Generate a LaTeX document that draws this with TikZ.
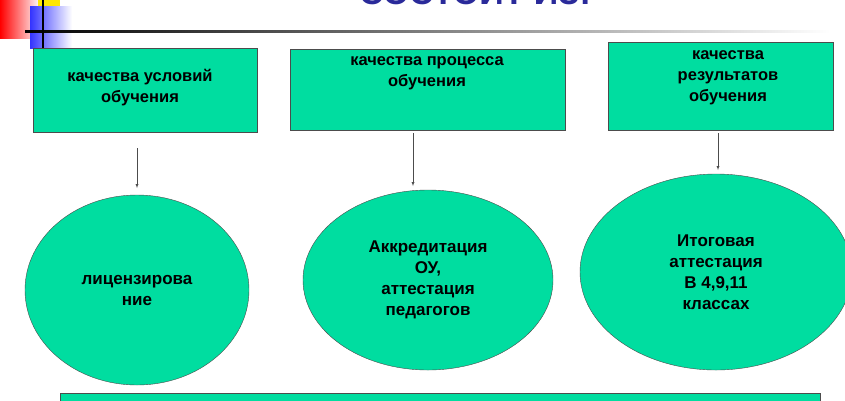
\documentclass[tikz,border=0pt]{standalone}
\usepackage{fontspec}
\setmainfont{Liberation Sans}
\usetikzlibrary{shapes.geometric}
\begin{document}
\begin{tikzpicture}[x=1pt,y=-1pt,
  box/.style={draw=black!70,fill=teal1,inner sep=0pt},
  ell/.style={ellipse,draw=black!70,fill=teal1,align=center,inner sep=0pt,font=\bfseries\fontsize{17}{21}\selectfont},
  txt/.style={align=center,font=\bfseries\fontsize{16.5}{21}\selectfont},
  arr/.style={-latex,black!70,thin}]
\definecolor{teal1}{HTML}{00DDA0}
\definecolor{navy1}{HTML}{2A2A9A}
\useasboundingbox (0,0) rectangle (845,400);
\clip (0,0) rectangle (845,400);
% decoration
\shade[left color=red,right color=white] (0,0) rectangle (40,38);
\fill[yellow!90!orange] (38,0) rectangle (60,6);
\shade[left color=blue!80,right color=white] (30,6) rectangle (72,48);
\shade[left color=black,right color=white] (25,30) rectangle (830,32.5);
\draw[black,line width=1.2pt] (43,0) -- (43,50);
\node[font=\bfseries\fontsize{34}{34}\selectfont,text=navy1] (title) at (475,-7) {СОСТОИТ ИЗ:};
% boxes
\node[box,minimum width=224,minimum height=84] (b1) at (145,90) {};
\node[txt,anchor=north] (t1) at (140,66) {качества условий\\обучения};
\node[box,minimum width=275,minimum height=81] (b2) at (427.5,89.5) {};
\node[txt,anchor=north] (t2) at (427,53) {качества процесса\\обучения};
\node[box,minimum width=225,minimum height=88] (b3) at (720.5,86) {};
\node[txt,anchor=north] (t3) at (728,47) {качества\\результатов\\обучения};
% ellipses
\node[ell,minimum width=224,minimum height=190] (e1) at (137,290) {лицензирова\\ние};
\node[ell,minimum width=250,minimum height=180] (e2) at (428,280) {Аккредитация\\ОУ,\\аттестация\\педагогов};
\node[ell,minimum width=272,minimum height=196] (e3) at (716,272) {Итоговая\\аттестация\\В 4,9,11\\классах};
% arrows
\coordinate (a1) at (137,148);
\coordinate (a2) at (413,133);
\coordinate (a3) at (718,133);
\draw[arr] (a1) -- (137,188);
\draw[arr] (a2) -- (413,186);
\draw[arr] (a3) -- (718,170);
% bottom box
\node[box,minimum width=760,minimum height=30,anchor=north west] (bot) at (60,393) {};
\end{tikzpicture}
\end{document}
